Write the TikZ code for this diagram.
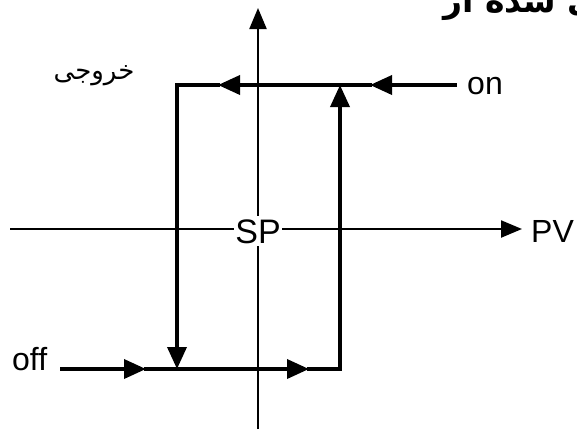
\documentclass[tikz,border=0pt]{standalone}
\usepackage{fontspec}
\setmainfont{Liberation Sans}
\newfontfamily\arabicfont[Script=Arabic]{DejaVu Sans}
\TeXXeTstate=1
\usetikzlibrary{arrows.meta}
\tikzset{
  axisline/.style={line width=2.2bp, black},
  loopline/.style={line width=3.6bp, black, line cap=rect},
  head/.style={-{Triangle[length=22bp,width=19bp]}},
  axhead/.style={-{Triangle[length=21bp,width=17bp]}},
  lbl/.style={font=\fontsize{32bp}{36bp}\selectfont, inner sep=0pt},
  plbl/.style={font=\arabicfont\fontsize{26bp}{30bp}\selectfont, inner sep=0pt},
}
\begin{document}
\begin{tikzpicture}[x=1bp,y=-1bp]
\useasboundingbox[fill=white] (0,0) rectangle (577,429);
% coordinates
\coordinate (xs) at (10,229);
\coordinate (xe) at (522,229);
\coordinate (ys) at (258,429);
\coordinate (ye) at (258,8);
\coordinate (offs) at (62,369);
\coordinate (a1) at (146,369);
\coordinate (a2) at (309,369);
\coordinate (BR) at (340,369);
\coordinate (TR) at (340,85);
\coordinate (ons) at (455,85);
\coordinate (b1) at (370,85);
\coordinate (b2) at (218,85);
\coordinate (TL) at (177,85);
\coordinate (BL) at (177,369);
% axes
\draw[axisline, axhead] (xs) -- (xe);
\draw[axisline, axhead] (ys) -- (ye);
% loop: off branch
\draw[loopline, head] (offs) -- (a1);
\draw[loopline, head] (a1) -- (a2);
\draw[loopline] (a2) -- (BR);
\draw[loopline, head] (BR) -- (TR);
% loop: on branch
\draw[loopline, head] (ons) -- (b1);
\draw[loopline, head] (b1) -- (b2);
\draw[loopline] (b2) -- (TL);
\draw[loopline, head] (TL) -- (BL);
% labels
\node[lbl, font=\fontsize{34bp}{38bp}\selectfont, fill=white, inner xsep=1bp, inner ysep=3bp, anchor=base] (sp) at (258,243) {SP};
\node[lbl, anchor=base west] (pv) at (531,242) {PV};
\node[lbl, anchor=base west] (on) at (467,94) {on};
\node[lbl, anchor=base west] (off) at (12,370) {off};
\node[plbl] (out) at (94,76) {\beginR خروجی\endR};
\node[font=\arabicfont\bfseries\fontsize{33bp}{38bp}\selectfont, inner sep=0pt, anchor=base east] (top) at (598,12) {\beginR ی شده از\endR};
\end{tikzpicture}
\end{document}
